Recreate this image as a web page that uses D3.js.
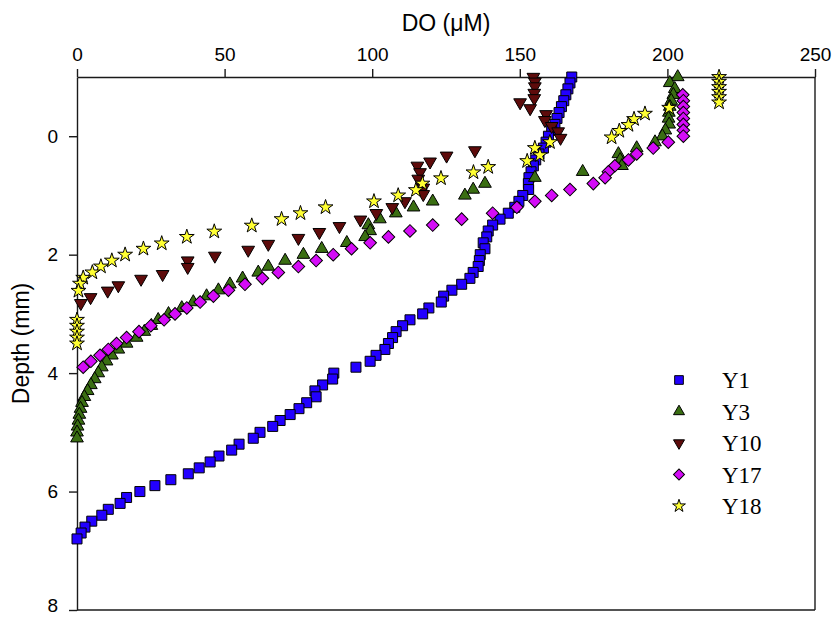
<!DOCTYPE html>
<html>
<head>
<meta charset="utf-8">
<script src="https://cdn.jsdelivr.net/npm/d3@7"></script>
<style>
	body { margin: 0; background: #fff; }
	svg text { font-family: "Liberation Sans", Arial, sans-serif; fill: #000; }
</style>
</head>
<body>
<div id="chart"></div>
<script>

// tick labels and series names
var xTicks = [0, 50, 100, 150, 200, 250];
var yTicks = [0, 2, 4, 6, 8];
var seriesNames = ["Y1", "Y3", "Y10", "Y17", "Y18"];

// each series: [depth (mm), DO (uM)]
var y1 = [[-1.0,167.6],[-0.9,167.0],[-0.8,166.3],[-0.7,165.6],[-0.6,164.9],[-0.5,164.1],[-0.4,163.3],[-0.3,162.6],
	[-0.2,161.9],[-0.1,160.8],[0.0,159.7],[0.1,158.9],[0.2,158.0],[0.3,156.5],[0.4,155.4],[0.5,154.6],[0.6,153.8],
	[0.7,153.1],[0.8,152.9],[0.9,153.0],[1.0,151.0],[1.1,149.7],[1.2,148.3],[1.3,146.1],[1.4,143.3],[1.5,140.8],
	[1.6,139.3],[1.7,138.8],[1.8,137.6],[1.9,138.2],[2.0,136.6],[2.1,136.3],[2.2,135.9],[2.3,134.2],[2.4,133.1],
	[2.5,130.3],[2.6,127.0],[2.7,124.2],[2.8,123.4],[2.9,119.2],[3.0,117.1],[3.1,112.8],[3.2,110.3],[3.3,108.1],
	[3.4,106.9],[3.5,105.5],[3.6,104.3],[3.7,101.3],[3.8,99.3],[3.9,94.5],[4.0,87.0],[4.1,86.6],[4.2,83.2],
	[4.3,80.6],[4.4,81.0],[4.5,77.8],[4.6,75.2],[4.7,72.2],[4.8,68.8],[4.9,66.3],[5.0,62.0],[5.1,59.7],[5.2,54.9],
	[5.3,52.4],[5.4,48.1],[5.5,45.1],[5.6,41.4],[5.7,37.7],[5.8,31.8],[5.9,26.4],[6.0,21.3],[6.1,16.8],[6.2,14.6],
	[6.3,10.6],[6.4,8.4],[6.5,5.0],[6.6,2.7],[6.7,1.4],[6.8,0.0]];

var y3 = [[-1.0,203.5],[-0.9,200.8],[-0.8,202.5],[-0.7,202.0],[-0.6,201.3],[-0.5,200.8],[-0.4,200.5],[-0.3,200.4],
	[-0.2,200.6],[-0.1,199.3],[0.0,198.3],[0.1,195.8],[0.2,189.6],[0.3,183.4],[0.4,184.0],[0.5,184.6],[0.6,171.3],
	[0.7,155.1],[0.8,138.2],[0.9,134.2],[1.0,131.4],[1.1,120.5],[1.2,114.0],[1.3,108.0],[1.4,102.6],[1.5,98.7],
	[1.6,99.3],[1.7,97.6],[1.8,91.4],[1.9,82.9],[2.0,76.7],[2.1,70.5],[2.2,64.8],[2.3,61.4],[2.4,56.1],[2.5,51.8],
	[2.6,47.9],[2.7,43.9],[2.8,39.4],[2.9,35.5],[3.0,31.0],[3.1,27.5],[3.2,25.2],[3.3,22.8],[3.4,20.2],[3.5,16.8],
	[3.6,14.0],[3.7,11.8],[3.8,10.0],[3.9,8.4],[4.0,7.2],[4.1,6.0],[4.2,4.7],[4.3,3.6],[4.4,2.5],[4.5,1.7],
	[4.6,1.2],[4.7,0.8],[4.8,0.5],[4.9,0.2],[5.0,0.0],[5.1,0.0]];

var y10 = [[-1.0,154.6],[-0.92,155.1],[-0.84,155.1],[-0.73,154.9],[-0.64,154.9],[-0.57,150.1],[-0.47,153.5],
	[-0.37,158.9],[-0.27,158.5],[-0.17,160.8],[-0.08,163.0],[0.03,163.8],[0.24,134.8],[0.33,125.2],[0.43,119.6],
	[0.5,115.3],[0.61,116.2],[0.72,115.6],[0.87,117.3],[0.98,117.3],[1.1,111.1],[1.2,106.8],[1.3,101.4],[1.41,96.0],
	[1.52,88.9],[1.62,82.1],[1.72,75.0],[1.82,64.8],[1.92,58.0],[2.02,46.7],[2.1,37.5],[2.21,37.5],[2.33,29.0],
	[2.41,21.7],[2.52,14.0],[2.61,10.4],[2.72,4.6],[2.82,1.3]];

var y17 = [[-0.7,205.2],[-0.6,205.4],[-0.5,205.4],[-0.4,205.4],[-0.3,205.4],[-0.2,205.4],[-0.1,205.4],[0.0,205.4],
	[0.1,200.3],[0.2,195.2],[0.3,189.6],[0.4,186.8],[0.5,182.2],[0.6,180.0],[0.7,178.9],[0.8,174.9],[0.9,167.0],
	[1.0,160.8],[1.1,155.1],[1.2,149.0],[1.3,140.8],[1.4,130.3],[1.5,120.5],[1.6,112.8],[1.7,105.5],[1.8,99.3],
	[1.9,93.0],[2.0,86.8],[2.1,81.0],[2.2,75.0],[2.3,68.2],[2.4,62.8],[2.5,56.9],[2.6,51.3],[2.7,46.2],[2.8,41.7],
	[2.9,37.2],[3.0,33.2],[3.1,29.5],[3.2,25.0],[3.3,21.0],[3.4,16.8],[3.5,13.4],[3.6,10.6],[3.7,7.8],[3.8,4.7],
	[3.9,2.1]];

var y18 = [[-1.0,217.5],[-0.92,217.5],[-0.83,217.5],[-0.75,217.5],[-0.66,217.5],[-0.57,217.5],[-0.48,200.6],
	[-0.38,192.4],[-0.29,188.7],[-0.19,186.8],[-0.09,183.7],[0.02,181.1],[0.1,160.2],[0.2,155.1],[0.32,156.8],
	[0.42,152.5],[0.52,139.3],[0.61,134.3],[0.71,123.3],[0.8,117.0],[0.91,114.8],[1.0,108.8],[1.1,100.6],
	[1.2,84.2],[1.3,75.7],[1.4,69.3],[1.51,59.2],[1.61,46.5],[1.7,37.2],[1.81,28.7],[1.9,22.5],[2.0,16.3],
	[2.1,11.8],[2.2,8.1],[2.3,5.2],[2.39,2.1],[2.49,1.0],[2.61,0.5],[3.1,0.0],[3.2,0.0],[3.3,0.0],[3.4,0.0],[3.5,0.0]];

var seriesData = [y1, y3, y10, y17, y18];

// marker look per series
var markerStyle = {
	"Y1":  { shape: d3.symbolSquare,   size: 100, rotate: 0,   fill: "#2200ff" },
	"Y3":  { shape: d3.symbolTriangle, size: 70,  rotate: 0,   fill: "#3a6e12" },
	"Y10": { shape: d3.symbolTriangle, size: 70,  rotate: 180, fill: "#5e0b0b" },
	"Y17": { shape: d3.symbolSquare,   size: 80,  rotate: 45,  fill: "#d40cf7" },
	"Y18": { shape: d3.symbolStar,     size: 68,  rotate: 0,   fill: "#ffff33" }
};

var width = 834, height = 617;

var svg = d3.select("#chart")
	.append("svg")
	.attr("width", width)
	.attr("height", height);

var x = d3.scaleLinear().domain([0, 250]).range([77, 815]);
var y = d3.scaleLinear().domain([-1, 8]).range([77, 610]);

function drawAxes(){

	var top = svg.append("g")
		.attr("transform", "translate(0," + y(-1) + ")")
		.call(d3.axisTop(x).tickValues(xTicks).tickSize(8).tickSizeOuter(0).tickPadding(8));

	var left = svg.append("g")
		.attr("transform", "translate(" + x(0) + ",0)")
		.call(d3.axisLeft(y).tickValues(yTicks).tickSize(8).tickSizeOuter(0).tickPadding(11));

	[top, left].forEach(function(g){
		g.selectAll("path, line").attr("stroke", "#1a1a1a").attr("stroke-width", 1.4);
		g.selectAll("text").style("font-size", "19px").attr("fill", "#000");
	});

	// the last label sits on the bottom edge, lift it a little so it stays whole
	left.selectAll(".tick text")
		.filter(function(d){ return d === 8; })
		.attr("dy", "0.1em");

	// frame on the right and bottom
	svg.append("line")
		.attr("x1", x(250)).attr("x2", x(250))
		.attr("y1", y(-1)).attr("y2", y(8))
		.attr("stroke", "#1a1a1a").attr("stroke-width", 1.4);
	svg.append("line")
		.attr("x1", x(0)).attr("x2", x(250))
		.attr("y1", y(8)).attr("y2", y(8))
		.attr("stroke", "#1a1a1a").attr("stroke-width", 1.4);

	svg.append("text")
		.attr("x", (x(0) + x(250)) / 2)
		.attr("y", 31)
		.attr("text-anchor", "middle")
		.style("font-size", "23px")
		.text("DO (\u03bcM)");

	svg.append("text")
		.attr("transform", "translate(29," + (y(-1) + y(8)) / 2 + ") rotate(-90)")
		.attr("text-anchor", "middle")
		.style("font-size", "23px")
		.text("Depth (mm)");
}

function markerPath(name, scale){

	var s = markerStyle[name];
	return d3.symbol().type(s.shape).size(s.size * scale)();
}

function drawSeries(){

	seriesNames.forEach(function(name, i){
		var s = markerStyle[name];
		svg.append("g")
			.attr("class", "series-" + name)
			.selectAll("path")
			.data(seriesData[i])
			.enter()
			.append("path")
			.attr("d", markerPath(name, 1))
			.attr("transform", function(d){
				return "translate(" + x(d[1]) + "," + y(d[0]) + ") rotate(" + s.rotate + ")";
			})
			.attr("fill", s.fill)
			.attr("stroke", "#000")
			.attr("stroke-width", 1);
	});
}

function drawLegend(){

	var legend = svg.append("g").attr("transform", "translate(679,380)");

	var rows = legend.selectAll("g")
		.data(seriesNames)
		.enter()
		.append("g")
		.attr("transform", function(d, i){ return "translate(0," + (i * 31.5) + ")"; });

	rows.append("path")
		.attr("d", function(d){ return markerPath(d, 0.75); })
		.attr("transform", function(d){ return "rotate(" + markerStyle[d].rotate + ")"; })
		.attr("fill", function(d){ return markerStyle[d].fill; })
		.attr("stroke", "#000")
		.attr("stroke-width", 1);

	rows.append("text")
		.attr("x", 43)
		.attr("dy", "0.35em")
		.style("font-family", "'Liberation Serif', 'Times New Roman', serif")
		.style("font-size", "23px")
		.text(function(d){ return d; });
}

drawAxes();
drawSeries();
drawLegend();

</script>
</body>
</html>
